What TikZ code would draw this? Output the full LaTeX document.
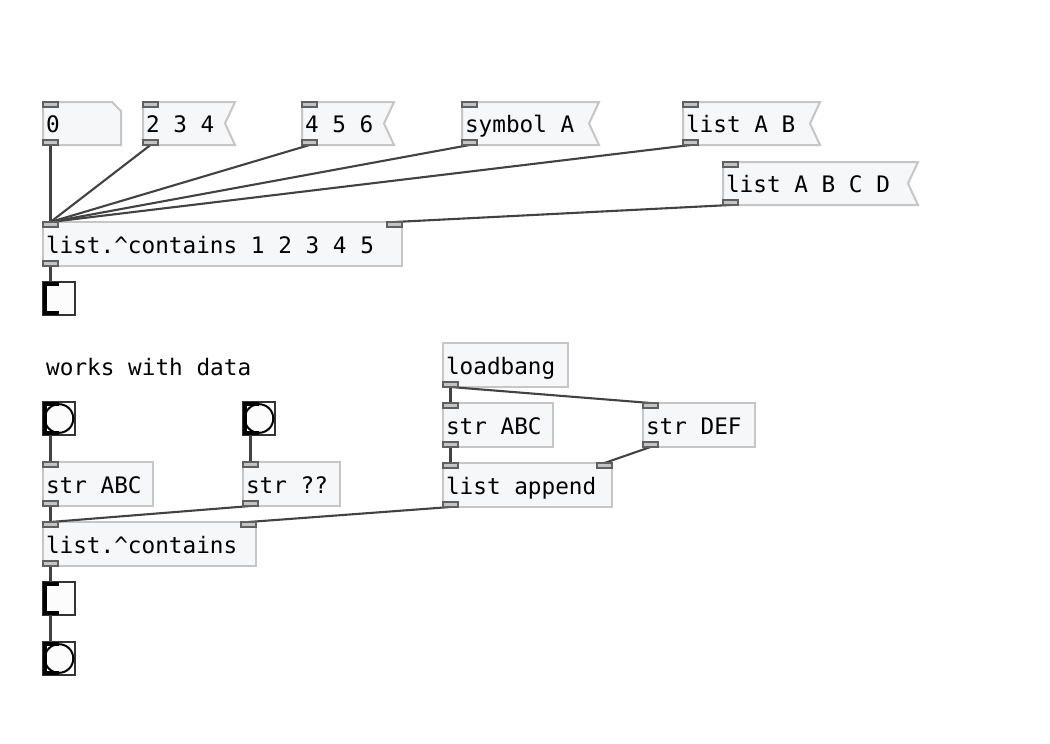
\documentclass[tikz,border=0pt]{standalone}
\usepackage{fontspec}
\newfontfamily\pdfont{DejaVu Sans Mono}
\usetikzlibrary{backgrounds}
\pgfdeclarelayer{paper}
\pgfsetlayers{paper,background,main}
\definecolor{boxfill}{HTML}{F6F7F9}
\definecolor{boxline}{HTML}{C6C6C6}
\definecolor{wirec}{HTML}{424242}
\definecolor{portline}{HTML}{606060}
\definecolor{portfill}{HTML}{C4C4C4}
\tikzset{
  pdtext/.style={font=\pdfont\fontsize{22.7pt}{27pt}\selectfont, text height=20pt, text depth=2pt},
  obj/.style={pdtext, draw=boxline, fill=boxfill, line width=2pt, anchor=north west,
    minimum height=44pt, inner xsep=3pt, inner ysep=0pt, outer sep=0pt},
  msgnode/.style={pdtext, anchor=north west, minimum height=43pt, inner xsep=3pt,
    inner ysep=0pt, outer sep=0pt},
  shapeline/.style={draw=boxline, fill=boxfill, line width=2pt, line join=miter},
  port/.style={draw=portline, fill=portfill, line width=1.3pt},
  wire/.style={draw=wirec, line width=2.1pt},
  gui/.style={draw=black!80, fill=black!1, line width=1.8pt, anchor=north west,
    minimum width=32pt, minimum height=33pt, inner sep=0pt, outer sep=0pt},
}
\newcommand\tw[2]{\makebox[#1][l]{#2}}
\newcommand\pdwire[2]{\draw[wire] ([xshift=7.5pt]#1.south west) -- ([xshift=7.5pt]#2.north west);}
\newcommand\pdwireR[2]{\draw[wire] ([xshift=7.5pt]#1.south west) -- ([xshift=-7.5pt]#2.north east);}
\newcommand\pdin[1]{\path[port] (#1.north west) rectangle ++(15,5);}
\newcommand\pdinR[1]{\path[port] (#1.north east) rectangle ++(-15,5);}
\newcommand\pdout[1]{\path[port] (#1.south west) rectangle ++(15,-5);}
\newcommand\msgshape[1]{\begin{pgfonlayer}{background}
  \path[shapeline] (#1.north west) -- (#1.north east) -- ([xshift=-10pt]#1.east)
    -- (#1.south east) -- (#1.south west) -- cycle;\end{pgfonlayer}}
\newcommand\guimarks[1]{%
  \fill[black] (#1.north west) rectangle ++(4,33);
  \fill[black] (#1.north west) rectangle ++(16,4);
  \fill[black] (#1.south west) rectangle ++(16,-4);}
\begin{document}
\begin{tikzpicture}[x=1pt,y=-1pt]
\begin{pgfonlayer}{paper}
  \fill[white] (0,0) rectangle (1050,744);
\end{pgfonlayer}
\useasboundingbox (0,0) rectangle (1050,744);

% top row: number box and messages
\node[msgnode] (n0) at (43,102) {\tw{72pt}{0}};
\begin{pgfonlayer}{background}
  \path[shapeline] (n0.north west) -- ([xshift=-9pt]n0.north east) -- ([yshift=-9pt]n0.north east)
    -- (n0.south east) -- (n0.south west) -- cycle;
\end{pgfonlayer}
\node[msgnode] (m234) at (143,102) {\tw{86pt}{2 3 4}}; \msgshape{m234}
\node[msgnode] (m456) at (302,102) {\tw{86pt}{4 5 6}}; \msgshape{m456}
\node[msgnode] (msym) at (462,102) {\tw{131pt}{symbol A}}; \msgshape{msym}
\node[msgnode] (mab) at (683,102) {\tw{131pt}{list A B}}; \msgshape{mab}
\node[msgnode] (mabcd) at (723,162) {\tw{189pt}{list A B C D}}; \msgshape{mabcd}

\node[obj] (lc1) at (43,222) {\tw{353pt}{list.\textasciicircum contains 1 2 3 4 5}};
\node[gui] (t1) at (43,282) {};

% lower left
\node[pdtext, anchor=base west, inner sep=0pt] (cm) at (46,375) {works with data};
\node[gui] (b1) at (43,402) {};
\node[gui] (b2) at (243,402) {};
\node[obj] (sabc) at (43,462) {\tw{104pt}{str ABC}};
\node[obj] (sqq) at (243,462) {\tw{91pt}{str ??}};
\node[obj] (lc2) at (43,522) {\tw{207pt}{list.\textasciicircum contains}};
\node[gui] (t2) at (43,582) {};
\node[gui] (b3) at (43,642) {};

% lower right
\node[obj] (lb) at (443,343) {\tw{119pt}{loadbang}};
\node[obj] (sabc2) at (443,403) {\tw{104pt}{str ABC}};
\node[obj] (sdef) at (643,403) {\tw{106pt}{str DEF}};
\node[obj] (lapp) at (443,463) {\tw{163pt}{list append}};

% gui decorations
\guimarks{t1} \guimarks{t2}
\foreach \b in {b1,b2,b3}{\guimarks{\b} \draw[black, line width=2pt] (\b.center) circle (14.3);}

% wires
\pdwire{n0}{lc1}
\pdwire{m234}{lc1}
\pdwire{m456}{lc1}
\pdwire{msym}{lc1}
\pdwire{mab}{lc1}
\pdwireR{mabcd}{lc1}
\pdwire{lc1}{t1}
\pdwire{b1}{sabc}
\pdwire{b2}{sqq}
\pdwire{sabc}{lc2}
\pdwire{sqq}{lc2}
\pdwireR{lapp}{lc2}
\pdwire{lc2}{t2}
\pdwire{t2}{b3}
\pdwire{lb}{sabc2}
\pdwire{lb}{sdef}
\pdwire{sabc2}{lapp}
\pdwireR{sdef}{lapp}

% ports
\foreach \n in {n0,m234,m456,msym,mab,mabcd}{\pdin{\n} \pdout{\n}}
\pdin{lc1} \pdinR{lc1} \pdout{lc1}
\pdin{sabc} \pdout{sabc}
\pdin{sqq} \pdout{sqq}
\pdin{lc2} \pdinR{lc2} \pdout{lc2}
\pdout{lb}
\pdin{sabc2} \pdout{sabc2}
\pdin{sdef} \pdout{sdef}
\pdin{lapp} \pdinR{lapp} \pdout{lapp}
\end{tikzpicture}
\end{document}
